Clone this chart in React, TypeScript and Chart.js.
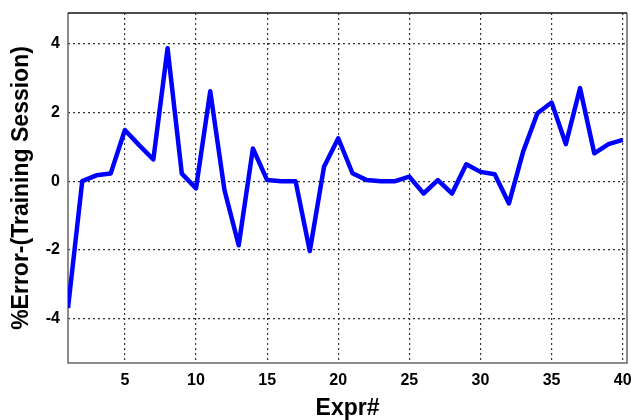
import React, { useEffect, useRef } from "react";
import { Chart, registerables } from "chart.js";

Chart.register(...registerables);

const experiments = Array.from({ length: 40 }, (_, i) => i + 1);
const errorValues = [
  -3.7, 0.0, 0.17, 0.22, 1.49, 1.05, 0.63, 3.87, 0.22, -0.21,
  2.62, -0.26, -1.87, 0.95, 0.03, 0.0, 0.0, -2.04, 0.42, 1.25,
  0.23, 0.03, 0.0, 0.0, 0.13, -0.36, 0.03, -0.36, 0.49, 0.27,
  0.2, -0.65, 0.86, 1.98, 2.29, 1.08, 2.71, 0.81, 1.08, 1.2,
];
const xTicks = [5, 10, 15, 20, 25, 30, 35, 40];
const yTicks = [-4, -2, 0, 2, 4];

const framePlugin = {
  id: "frame",
  beforeDatasetsDraw(chart: any) {
    const { ctx, chartArea } = chart;
    const { left, top, right, bottom } = chartArea;
    ctx.save();
    ctx.lineWidth = 1.5;
    ctx.strokeStyle = "#666";
    ctx.beginPath();
    ctx.moveTo(left, top);
    ctx.lineTo(left, bottom);
    ctx.lineTo(right, bottom);
    ctx.lineTo(right, top);
    ctx.stroke();
    ctx.strokeStyle = "#111";
    ctx.beginPath();
    ctx.moveTo(left, top);
    ctx.lineTo(right, top);
    ctx.stroke();
    ctx.restore();
  },
};

export default function App() {
  const ref = useRef<HTMLCanvasElement | null>(null);
  useEffect(() => {
    document.body.style.margin = "0";
    if (!ref.current) return;
    const chart = new Chart(ref.current, {
      type: "line",
      data: {
        datasets: [
          {
            data: experiments.map((x, i) => ({ x, y: errorValues[i] })),
            borderColor: "#0000ff",
            backgroundColor: "#0000ff",
            borderWidth: 4.5,
            borderJoinStyle: "round",
            pointRadius: 0,
            tension: 0,
            fill: false,
          },
        ],
      },
      options: {
        animation: false,
        responsive: false,
        layout: { padding: { top: 13, right: 4, left: 0, bottom: 0 } },
        plugins: { legend: { display: false }, tooltip: { enabled: false } },
        scales: {
          x: {
            type: "linear",
            min: 1,
            max: 40.3,
            afterBuildTicks: (s: any) => {
              s.ticks = xTicks.map((v) => ({ value: v }));
            },
            afterFit: (s: any) => {
              s.height = 57;
              s.paddingLeft = 0;
              s.paddingRight = 0;
            },
            ticks: {
              autoSkip: false,
              maxRotation: 0,
              padding: 8,
              color: "#000",
              font: { family: "Liberation Sans", size: 16, weight: "bold" },
            },
            grid: { color: "#333", lineWidth: 1.2, drawTicks: false },
            border: { display: false, dash: [2, 3] },
            title: {
              display: true,
              text: "Expr#",
              color: "#000",
              padding: 0,
              font: { family: "Liberation Sans", size: 23, weight: "bold", lineHeight: 1 },
            },
          },
          y: {
            min: -5.3,
            max: 4.9,
            afterBuildTicks: (s: any) => {
              s.ticks = yTicks.map((v) => ({ value: v }));
            },
            afterFit: (s: any) => {
              s.width = 68;
              s.paddingTop = 0;
              s.paddingBottom = 0;
            },
            ticks: {
              padding: 8,
              color: "#000",
              font: { family: "Liberation Sans", size: 16, weight: "bold" },
            },
            grid: { color: "#333", lineWidth: 1.2, drawTicks: false },
            border: { display: false, dash: [2, 3] },
            title: {
              display: true,
              text: "%Error-(Training Session)",
              color: "#000",
              padding: { top: 10, bottom: 0 },
              font: { family: "Liberation Sans", size: 23, weight: "bold", lineHeight: 1 },
            },
          },
        },
      },
      plugins: [framePlugin],
    });
    return () => chart.destroy();
  }, []);
  return (
    <div style={{ width: 631, height: 420 }}>
      <canvas ref={ref} width={631} height={420} />
    </div>
  );
}
